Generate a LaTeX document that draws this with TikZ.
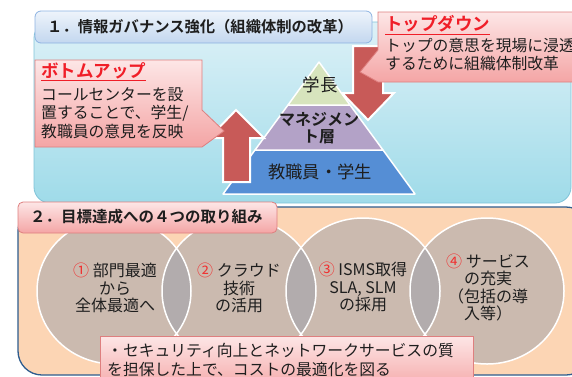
\documentclass[tikz,border=0pt]{standalone}
\usepackage{fontspec}
\setmainfont{Noto Sans CJK JP}[BoldFont={Noto Sans CJK JP Bold}]
\definecolor{panelTop}{HTML}{DDF1F7}
\definecolor{panelBot}{HTML}{9FDBE9}
\definecolor{panelLine}{HTML}{7FC3D8}
\definecolor{peach}{HTML}{FCD5B4}
\definecolor{navy}{HTML}{2E5C8E}
\definecolor{circG}{HTML}{9BA0AC}
\definecolor{pinkTop}{HTML}{FDE6E6}
\definecolor{pinkBot}{HTML}{F4A5A5}
\definecolor{pinkLine}{HTML}{DE7F7F}
\definecolor{blueTop}{HTML}{EEF4FB}
\definecolor{blueBot}{HTML}{C3D7EF}
\definecolor{blueLine}{HTML}{8DB3E2}
\definecolor{pyrGreen}{HTML}{D7E4BD}
\definecolor{pyrPurple}{HTML}{B3A2C7}
\definecolor{pyrBlue}{HTML}{558ED5}
\definecolor{arrowRed}{HTML}{C85A58}
\definecolor{headRed}{HTML}{F01E28}
\definecolor{numRed}{HTML}{F03030}
\definecolor{txt}{HTML}{1E1E1E}
\tikzset{
  linetxt/.style={inner sep=0pt, anchor=west, text=txt},
  bodyfont/.style={font=\fontsize{15.8}{18.5}\selectfont},
  headfont/.style={font=\fontsize{17.5}{20}\selectfont\bfseries, text=headRed},
  pinkbox/.style={top color=pinkTop, bottom color=pinkBot, draw=pinkLine, line width=0.8pt},
  bigarrow/.style={fill=arrowRed, draw=white, line width=2pt, line join=miter},
  layer/.style={draw=white, line width=1.5pt, line join=round},
  circtxt/.style={inner sep=0pt, align=center, text=txt, font=\fontsize{16}{17.5}\selectfont},
}
\begin{document}
\begin{tikzpicture}[x=1pt,y=-1pt]
\useasboundingbox (0,0) rectangle (572,376);
\clip (0,0) rectangle (572,376);
% ---------- top panel ----------
\shade[top color=panelTop, bottom color=panelBot, draw=panelLine, line width=0.8pt, rounded corners=16pt]
  (34,22) rectangle (571,203);
% pyramid
\fill[pyrBlue, layer] (255,150) -- (383,150) -- (415,194) -- (223,194) -- cycle;
\fill[pyrPurple, layer] (288,105) -- (350,105) -- (383,150) -- (255,150) -- cycle;
\fill[pyrGreen, layer] (319,62) -- (350,105) -- (288,105) -- cycle;
\node[inner sep=0pt, text=txt, font=\fontsize{17.5}{20}\selectfont] (gakucho) at (320,85) {学長};
\node[inner sep=0pt, text=txt, align=center, font=\fontsize{16}{17}\selectfont\bfseries] (mgmt) at (319,128) {マネジメン\\ト層};
\node[inner sep=0pt, text=txt, font=\fontsize{17.3}{20}\selectfont] (staff) at (320,172) {教職員・学生};
% arrows
\draw[bigarrow] (223,182) -- (223,138) -- (209,138) -- (236,110) -- (264,138) -- (250,138) -- (250,182) -- cycle;
\draw[bigarrow] (353,46) -- (383,46) -- (383,93) -- (394,93) -- (368,120) -- (342,93) -- (353,93) -- cycle;
% title 1
\shade[top color=blueTop, bottom color=blueBot, draw=blueLine, line width=0.8pt, rounded corners=6pt]
  (35,11) rectangle (372,43);
\node[linetxt, font=\fontsize{15.3}{18}\selectfont\bfseries] (title1) at (47,27) {１．情報ガバナンス強化（組織体制の改革）};
% bottom-up callout
\shade[pinkbox] (35,60) -- (202,60) -- (202,110) -- (224,131) -- (202,147) -- (35,147) -- cycle;
\node[linetxt, headfont] (buhead) at (41,72) {\underline{ボトムアップ}};
\node[linetxt, bodyfont] (bu1) at (41,95) {コールセンターを設};
\node[linetxt, bodyfont] (bu2) at (41,113.5) {置することで、学生/};
\node[linetxt, bodyfont] (bu3) at (41,132) {教職員の意見を反映};
% top-down callout
\shade[pinkbox] (378,12) -- (600,12) -- (600,82) -- (378,82) -- (360,72) -- (378,50) -- cycle;
\node[linetxt, headfont] (tdhead) at (385,25) {\underline{トップダウン}};
\node[linetxt, bodyfont] (td1) at (385,46) {トップの意思を現場に浸透};
\node[linetxt, bodyfont] (td2) at (385,64) {するために組織体制改革};
% ---------- bottom panel ----------
\fill[peach, draw=navy, line width=1.3pt, rounded corners=24pt] (18,207) rectangle (590,375);
\foreach \cx in {114,239,363,487}
  \fill[circG, fill opacity=0.5] (\cx,291) ellipse [x radius=77, y radius=73];
\foreach \cx in {114,239,363,487}
  \draw[white, line width=1.5pt] (\cx,291) ellipse [x radius=77, y radius=73];
\node[circtxt] (c1) at (115,288) {\textcolor{numRed}{①} 部門最適\\から\\全体最適へ};
\node[circtxt] (c2) at (239,288) {\textcolor{numRed}{②} クラウド\\技術\\の活用};
\node[circtxt] (c3) at (363,287) {\textcolor{numRed}{③} ISMS取得\\SLA, SLM\\の採用};
\node[circtxt] (c4) at (488,287.5) {\textcolor{numRed}{④} サービス\\の充実\\（包括の導\\入等）};
% title 2
\shade[pinkbox, rounded corners=5pt] (18,202) rectangle (277,233);
\node[linetxt, font=\fontsize{15.5}{18}\selectfont\bfseries] (title2) at (30,217) {２．目標達成への４つの取り組み};
% bottom note
\shade[pinkbox] (100,336) rectangle (473,392);
\node[linetxt, bodyfont] (note1) at (107,350) {・セキュリティ向上とネットワークサービスの質};
\node[linetxt, bodyfont] (note2) at (107,369) {を担保した上で、コストの最適化を図る};
\end{tikzpicture}
\end{document}
